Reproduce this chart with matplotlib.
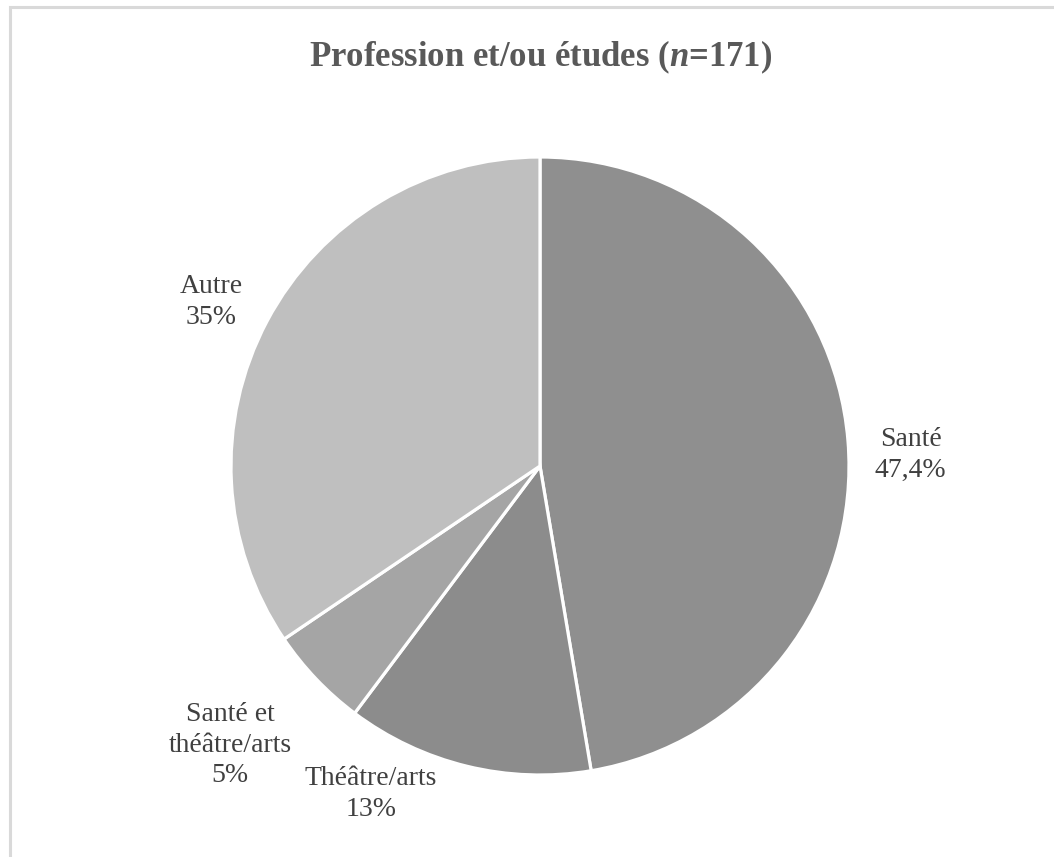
import numpy as np
import matplotlib
matplotlib.use('Agg')
import matplotlib.pyplot as plt
from matplotlib.patches import Rectangle

plt.rcParams['font.family'] = 'Liberation Serif'
plt.rcParams['mathtext.fontset'] = 'custom'
plt.rcParams['mathtext.it'] = 'Liberation Serif:italic:bold'
plt.rcParams['mathtext.rm'] = 'Liberation Serif:bold'

# donnees
categories = ['Santé', 'Théâtre/arts', 'Santé et\nthéâtre/arts', 'Autre']
valeurs = [47.4, 12.9, 5.3, 34.5]
etiquettes = ['47,4%', '13%', '5%', '35%']
couleurs = ['#8f8f8f', '#8c8c8c', '#a5a5a5', '#bfbfbf']

W, H = 1054, 857
fig = plt.figure(figsize=(W / 100, H / 100), dpi=100)

# cadre gris (coin haut gauche visible seulement)
fig.patches.append(Rectangle((9.5 / W, -0.2), 3, 1.2 - 6.5 / H, transform=fig.transFigure,
                             fill=False, edgecolor='#d9d9d9', linewidth=2.2))

cx, cy, r = 540, 466, 309
ax = fig.add_axes([(cx - r) / W, (H - cy - r) / H, 2 * r / W, 2 * r / H])
wedges, _ = ax.pie(valeurs, colors=couleurs, startangle=90, counterclock=False,
                   wedgeprops=dict(edgecolor='white', linewidth=2.3))
ax.set_xlim(-1, 1)
ax.set_ylim(-1, 1)
ax.axis('off')

# position des etiquettes (distance, decalage angulaire)
dist = [1.20, 1.195, 1.35, 1.19]
decal = [-3.1, -13.6, -1.6, 1.5]
for w, cat, et, d, da in zip(wedges, categories, etiquettes, dist, decal):
    a = np.deg2rad((w.theta1 + w.theta2) / 2 + da)
    ax.text(d * np.cos(a), d * np.sin(a), cat + '\n' + et, ha='center', va='center',
            fontsize=20, color='#404040', linespacing=1.3, clip_on=False)

fig.text(541 / W, 1 - 57 / H, r'Profession et/ou études ($n$=171)', ha='center', va='center',
         fontsize=25, fontweight='bold', color='#595959')

fig.savefig('out.png', dpi=100)
